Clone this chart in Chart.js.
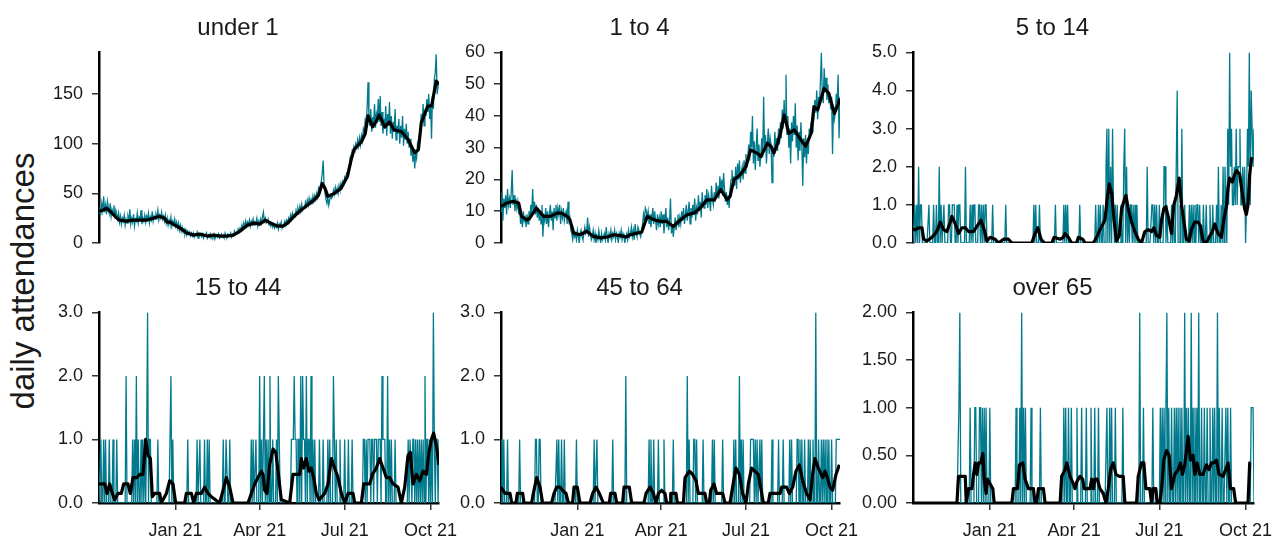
<!DOCTYPE html>
<html>
<head>
<meta charset="utf-8">
<script src="https://cdn.jsdelivr.net/npm/chart.js@4.4.1/dist/chart.umd.min.js"></script>
<style>
  body { margin: 0; width: 1272px; height: 536px; overflow: hidden; background: #fff; position: relative; }
  canvas { position: absolute; }
  #ylab { position: absolute; left: 22px; top: 281px; transform: translate(-50%, -50%) rotate(-90deg);
          font: 33px "Liberation Sans", Arial, sans-serif; line-height: 1; white-space: nowrap; color: #1a1a1a; }
</style>
</head>
<body>
<div id="ylab">daily attendances</div>
<canvas id="c0"></canvas><canvas id="c1"></canvas><canvas id="c2"></canvas>
<canvas id="c3"></canvas><canvas id="c4"></canvas><canvas id="c5"></canvas>
<script>
// days counted from 11 Oct 2020 (day 0) to 10 Oct 2021 (day 364)
const nDays = 365;
const tickDays = [82, 172, 263, 355];
const tickLabels = ['Jan 21', 'Apr 21', 'Jul 21', 'Oct 21'];
const titles = ['under 1', '1 to 4', '5 to 14', '15 to 44', '45 to 64', 'over 65'];

// daily counts, under 1
const dailyUnder1 = [
  30,36,28,40,33,47,31,38,29,42, 36,30,40,27,34,31,38,25,33,29, 24,30,21,27,19,25,22,28,18,24,
  20,27,23,34,19,25,21,29,17,24, 22,30,20,26,24,33,19,25,22,28, 21,27,24,30,20,26,23,32,22,27,
  24,29,26,33,23,28,25,31,24,27, 22,28,20,25,18,23,19,26,17,22, 19,24,17,21,15,20,13,18,12,16,
  11,14,9,13,8,12,9,11,7,10, 7,10,6,9,8,11,5,9,7,8, 6,9,5,8,7,10,5,8,6,9,
  5,8,6,9,4,7,8,6,9,5, 7,9,6,8,5,10,7,6,9,8, 7,10,6,9,8,12,9,11,10,14,
  11,15,13,18,14,20,16,22,17,21, 18,23,17,22,19,24,18,21,20,25, 17,22,19,24,20,26,31,22,25,20,
  21,24,18,22,17,20,16,19,15,18, 16,20,14,19,17,21,15,18,19,22, 18,23,21,25,22,28,24,30,26,29,
  27,33,29,35,31,37,32,39,33,36, 35,41,37,43,38,45,40,44,39,47, 42,48,44,50,46,55,52,58,62,70,
  83,58,50,44,40,46,38,43,48,45, 47,53,49,56,51,55,50,58,54,60, 56,62,59,66,63,70,68,75,79,86,
  82,92,89,97,94,100,96,104,98,106, 99,108,103,115,112,124,120,135,162,128, 118,135,112,127,120,140,116,130,125,145,
  122,148,118,132,110,125,115,138,108,130, 118,142,110,128,105,122,112,135,104,118, 110,125,100,118,106,128,98,115,104,120,
  100,112,96,105,88,98,82,94,75,90, 85,100,96,108,115,130,122,140,118,135, 128,145,132,150,125,140,105,148,135,165,
  172,190,150,158,162
];
// daily counts, 1 to 4
const daily1to4 = [
  10,16,7,14,11,15,9,17,12,14, 11,16,23,12,15,10,14,11,13,9, 12,6,9,5,10,7,8,5,9,6,
  10,7,12,9,17,10,13,9,12,8, 11,7,10,6,12,2,9,7,11,6, 10,5,9,12,7,10,4,11,8,12,
  7,11,9,12,6,10,8,11,7,9, 10,6,13,7,8,4,3,1,4,2, 3,1,4,2,0,3,4,2,1,3,
  5,3,4,8,2,5,3,1,2,4, 1,3,0,2,1,4,2,0,3,1, 2,3,1,5,2,0,3,2,4,1,
  3,2,4,1,3,2,0,3,2,4, 1,3,2,0,2,3,1,4,2,3, 5,2,4,1,6,3,2,5,4,3,
  2,4,6,9,7,11,10,8,10,6, 9,5,8,11,6,10,7,4,9,6, 8,5,10,6,9,3,7,11,5,8,
  4,7,14,3,6,2,5,8,4,7, 9,5,8,6,10,7,11,6,9,12, 7,10,13,6,11,8,12,9,14,7,
  11,9,15,10,13,8,16,12,11,15, 12,17,11,15,13,10,18,14,12,16, 13,19,15,18,14,21,16,20,15,22,
  17,13,16,12,15,11,17,20,23,18, 21,18,24,17,25,20,26,19,22,24, 20,26,22,28,24,27,31,26,35,30,
  40,25,32,23,30,36,26,31,24,28, 33,27,46,29,34,25,31,36,28,33, 31,19,29,27,35,30,33,29,36,31,
  38,33,42,36,45,38,53,34,40,30, 36,25,38,32,40,34,44,30,37,26, 35,29,38,31,18,33,27,34,25,32,
  28,36,33,38,35,42,40,45,41,48, 39,46,43,51,60,47,44,55,49,52, 45,50,44,47,42,46,28,43,39,41,
  47,44,53,33,46
];
// days with attendances [day, count]; all other days are zero
const counts5to14 = [
  [2,1],[4,1],[6,2],[8,1],[9,1],[17,1],[22,1],[25,1],[28,2],[30,1],[33,1],[38,1],[39,1],[42,1],[43,1],[44,1],
  [47,1],[49,1],[50,1],[56,2],[61,1],[63,1],[65,1],[66,1],[70,1],[71,1],[73,1],[75,1],[77,1],[78,1],[85,1],
  [99,1],[129,1],[131,1],[135,1],[152,1],[161,1],[163,1],[165,1],[178,1],[195,1],[198,1],[200,1],[203,1],
  [206,2],[207,3],[209,3],[211,2],[213,3],[214,1],[216,1],[218,1],[222,1],[225,2],[226,3],[228,2],[230,1],
  [232,1],[233,1],[235,1],[237,1],[239,1],[250,2],[255,1],[256,1],[258,1],[260,1],[263,1],[268,2],[269,2],
  [271,1],[276,1],[278,1],[281,2],[282,4],[285,1],[287,3],[290,1],[295,1],[297,1],[299,1],[301,1],[303,1],
  [304,1],[306,1],[310,1],[313,1],[317,1],[320,1],[324,1],[326,2],[329,1],[331,2],[333,2],[334,1],[336,3],
  [337,1],[338,5],[339,2],[340,3],[341,1],[342,1],[343,2],[344,1],[345,3],[346,1],[347,2],[348,2],[349,3],
  [350,1],[351,1],[352,2],[353,1],[354,2],[356,1],[357,3],[358,2],[359,5],[360,1],[361,4],[362,3],[363,2],[364,3]
];
const counts15to44 = [
  [2,1],[5,1],[7,1],[11,1],[15,1],[19,1],[29,2],[36,1],[38,1],[40,2],[42,1],[45,1],[47,1],[49,1],[51,1],
  [52,3],[54,1],[55,1],[63,1],[77,2],[79,1],[95,1],[105,1],[108,1],[113,1],[116,1],[118,1],[133,1],[136,1],
  [137,1],[140,1],[163,1],[165,1],[168,1],[172,2],[174,1],[176,1],[177,2],[179,1],[181,1],[183,2],[186,1],
  [190,1],[192,2],[193,1],[206,1],[207,1],[208,1],[209,2],[210,1],[211,1],[213,1],[214,1],[216,2],[218,2],
  [219,1],[220,1],[222,2],[224,1],[225,1],[227,2],[229,1],[231,1],[236,1],[240,1],[245,1],[247,1],[251,2],
  [252,1],[254,1],[258,1],[263,1],[267,1],[271,1],[283,1],[284,1],[286,1],[288,1],[289,1],[290,1],[292,1],
  [293,1],[295,1],[296,1],[297,1],[299,1],[300,1],[301,1],[303,2],[304,1],[305,1],[306,1],[309,2],[311,1],
  [313,1],[317,1],[331,1],[333,1],[334,1],[336,1],[337,1],[339,1],[341,1],[343,1],[345,1],[347,1],[349,2],
  [351,1],[352,1],[354,1],[356,1],[358,3],[359,1],[361,1],[362,1],[364,1]
];
const counts45to64 = [
  [1,1],[3,1],[7,1],[20,1],[37,1],[38,1],[41,1],[42,1],[60,1],[62,1],[65,1],[68,1],[81,1],[100,1],[103,1],
  [120,1],[134,2],[159,1],[161,1],[164,1],[169,1],[175,1],[185,1],[200,2],[202,1],[207,1],[208,1],[210,1],
  [217,1],[227,1],[229,1],[238,1],[250,1],[252,1],[256,2],[258,1],[260,1],[268,1],[269,1],[270,1],[271,1],
  [273,1],[275,1],[278,1],[280,1],[291,1],[298,1],[303,1],[310,1],[312,1],[318,1],[319,1],[321,1],[323,1],
  [326,1],[330,1],[332,1],[335,1],[338,3],[341,1],[344,1],[346,1],[348,1],[350,1],[352,1],[355,1],[360,1],
  [361,1],[362,1],[363,1],[364,1]
];
const countsOver65 = [
  [49,1],[50,2],[61,1],[66,1],[67,1],[71,1],[72,1],[74,1],[76,1],[78,1],[82,1],[110,1],[114,1],[116,2],
  [118,1],[120,1],[126,1],[136,1],[161,1],[163,1],[166,1],[169,1],[175,1],[180,1],[185,1],[190,1],[194,1],
  [198,1],[207,1],[210,1],[212,1],[216,1],[224,1],[242,2],[246,1],[256,1],[264,1],[266,1],[268,1],[270,1],
  [271,2],[273,1],[276,1],[279,1],[281,1],[283,1],[285,1],[287,1],[290,2],[292,1],[294,1],[297,2],[299,1],
  [301,1],[303,1],[305,2],[308,1],[311,1],[314,1],[317,1],[320,1],[322,1],[325,2],[327,1],[330,1],[334,1],
  [336,1],[339,1],[361,1],[362,1],[363,1]
];

// 7-day average line [day, value]
const avgUnder1 = [[0,32],[4,33],[8,35],[13,31],[18,26],[22,23],[29,22],[36,23],[44,23],[51,23],[58,25],[65,27],
  [70,25],[73,21],[76,21],[81,18],[87,15],[94,10],[101,8],[108,9],[116,7],[123,8],[130,7],[137,7],[144,8],[151,12],
  [159,18],[166,20],[172,19],[178,23],[184,20],[191,17],[197,17],[202,20],[209,27],[216,33],[223,38],[230,43],[235,48],
  [239,60],[242,55],[245,47],[252,50],[259,55],[266,67],[270,84],[273,94],[281,102],[285,110],[288,128],[293,117],
  [297,123],[300,129],[306,117],[311,122],[316,114],[324,112],[331,104],[338,91],[342,94],[345,121],[352,138],
  [356,138],[361,163],[364,160]];
const avg1to4 = [[0,11.5],[3,12],[6,12.6],[13,13.1],[19,12.6],[22,8.4],[28,7.3],[31,7.9],[38,11],[46,8.4],[53,8.4],
  [60,9.4],[65,9.4],[71,8.4],[74,7.3],[78,3.1],[85,2.6],[92,3.7],[99,2.1],[107,1.6],[114,1.9],[121,2.6],[128,2.3],
  [135,1.9],[139,2.6],[146,3.1],[151,3.4],[157,8.4],[164,7.3],[171,6.8],[178,6.8],[185,5.2],[193,7.3],[200,8.9],
  [207,9.4],[214,11],[221,13.6],[229,13.6],[236,16.8],[243,13.6],[246,14.7],[250,19.9],[257,21.5],[263,24],
  [268,29.3],[275,28.3],[279,27.2],[286,31.4],[290,30.4],[293,28.3],[297,31.4],[300,34.5],[304,40.3],[309,34.5],
  [315,35.6],[322,32.5],[327,30.4],[333,34.5],[336,42.9],[340,41.9],[347,48.7],[352,47.1],[358,40.8],[361,42.9],
  [364,45.5]];
const avg5to14 = [[0,0.35],[2.5,0.35],[6,0.4],[9.6,0.4],[11.4,0.1],[14.9,0.05],[20.2,0.15],[23.8,0.25],[26.3,0.35],
  [29.1,0.55],[32.7,0.35],[36.2,0.3],[39.8,0.55],[41.5,0.7],[45.1,0.5],[48.6,0.25],[52.2,0.4],[55.8,0.4],[59.3,0.3],
  [64.6,0.3],[70,0.5],[72.4,0.6],[76,0.35],[78.8,0.05],[82.4,0.15],[87.7,0.1],[91.3,0],[96.6,0.1],[101.9,0.1],
  [105.5,0],[126.8,0],[130.3,0.25],[133.2,0.4],[136.7,0.1],[140.3,0],[148.1,0],[150.6,0.15],[157,0.1],[160.5,0.15],
  [162.3,0.25],[165.8,0.15],[169.4,0],[174.7,0],[176.5,0.15],[181.1,0.1],[183.6,0],[192.5,0],[196,0.15],[199.6,0.35],
  [204.9,0.6],[207.4,1.2],[209.5,1.55],[212.1,1.3],[214.6,0.6],[217.3,0.05],[220.2,0.2],[222.7,0.9],[224.5,1.05],
  [227.3,1.25],[229.7,0.9],[233.3,0.55],[236.9,0.3],[240.4,0.1],[243.9,0],[247.5,0.3],[251.1,0.35],[254.6,0.3],
  [257.1,0.4],[259.9,0.2],[263.5,0.15],[265.3,0.6],[267.7,0.9],[269.9,0.95],[272.4,0.7],[275.9,0.25],[278.4,1.0],
  [281.2,1.25],[284.1,1.7],[286.6,1.0],[289,0.6],[291.9,0.1],[294.7,0.05],[297.2,0.35],[300.8,0.55],[304.3,0.55],
  [306.8,0.45],[309.6,0.05],[313.2,0],[316,0.15],[319.6,0.3],[322.1,0.5],[325.6,0.25],[329.2,0.15],[331.7,0.6],
  [334.5,0.95],[336.3,1.45],[338,1.7],[340.9,1.6],[343.4,1.8],[345.2,1.9],[348.7,1.8],[351.5,1.3],[354,0.9],
  [355.8,0.75],[357.6,1.0],[359.4,1.8],[361.2,2.2],[362.2,2.25]];
const avg15to44 = [[0,0.3],[6.1,0.3],[8.6,0.15],[11.4,0.3],[14.3,0.15],[16.8,0.05],[20.3,0.15],[23.9,0.15],[26.4,0.3],
  [31,0.3],[33.5,0.15],[36.4,0.4],[40.7,0.4],[43.5,0.45],[47.1,0.45],[50,1.0],[52.5,0.75],[55,0.7],[57.1,0.1],
  [59.6,0.15],[65,0.15],[66.7,0],[72.1,0.15],[75.7,0.35],[79.2,0.3],[82.1,0],[91.7,0],[93.5,0.15],[98.9,0.15],
  [101.4,0],[104.2,0.15],[109.6,0.15],[113.1,0.25],[116.7,0.15],[120.3,0.1],[129.2,0],[132.8,0.2],[136.3,0.4],
  [139.9,0.25],[143.5,0],[159.5,0],[163.1,0.15],[166.7,0.3],[170.2,0.4],[173.8,0.5],[175.6,0.45],[177.4,0.2],
  [179.9,0.15],[182.7,0.6],[186.3,0.85],[189.2,0.8],[191.7,0.5],[195.2,0.05],[204.1,0],[207.7,0.45],[214.9,0.45],
  [216.6,0.7],[219.1,0.55],[221.9,0.7],[224.8,0.5],[227.3,0.55],[229.8,0.4],[232.7,0.15],[235.5,0.05],[241.6,0.15],
  [245.2,0.3],[248.8,0.7],[252.3,0.55],[255.9,0.4],[259.5,0.15],[263,0],[266.6,0.15],[272,0.15],[273.7,0],[280.9,0],
  [283.4,0.3],[289.8,0.3],[292.7,0.45],[296.9,0.55],[300.5,0.7],[304.1,0.55],[307.6,0.4],[311.2,0.4],[314.8,0.3],
  [320.1,0.25],[323.7,0],[327.3,0.25],[330.8,0.75],[333.3,0.8],[336.2,0.3],[339.8,0.45],[343.3,0.35],[346.9,0.5],
  [350.5,0.45],[353.3,0.8],[355.8,1.0],[358.3,1.1],[361.2,0.9],[364,0.6]];
const avg45to64 = [[0,0.25],[4.3,0.15],[9.7,0.15],[11.5,0],[16.1,0],[17.5,0.15],[23.3,0.15],[24.7,0],[32.9,0],
  [34.7,0.15],[38.3,0.4],[41.9,0.25],[44.7,0],[54.4,0],[56.9,0.15],[59.8,0.25],[63.3,0.25],[66.2,0.2],[69.8,0.15],
  [72.3,0],[76.9,0],[78.4,0.25],[81.9,0.25],[84.8,0],[95.6,0],[98.4,0.15],[102,0.25],[105.6,0.15],[109.9,0],
  [116.3,0],[117.7,0.15],[122.4,0.15],[124.2,0],[130.6,0],[132.1,0.25],[137.8,0.25],[140.3,0],[153.5,0],[155.7,0.15],
  [160,0.25],[163.6,0.15],[166.4,0],[169,0.15],[172.5,0.2],[176.1,0.15],[177.9,0],[181.5,0],[182.2,0.15],
  [187.9,0.15],[189.3,0],[195.8,0],[197.6,0.4],[202.3,0.5],[205.8,0.45],[209.4,0.35],[211.9,0.15],[219,0.15],
  [220.9,0],[223.7,0],[225.1,0.2],[228.7,0.3],[231.5,0.15],[238,0.15],[240.5,0],[245.9,0],[248.7,0.25],[252.3,0.55],
  [255.9,0.45],[259.5,0.15],[263.1,0],[265.6,0.3],[269.1,0.55],[272.7,0.5],[276.3,0.45],[278.8,0.25],[281.7,0],
  [287,0],[288.8,0.15],[299.6,0.15],[301.4,0.25],[306.7,0.25],[309.6,0.15],[313.2,0.25],[316.7,0.5],[320.3,0.6],
  [323.9,0.35],[328.2,0.15],[331.8,0.05],[334.6,0.45],[337.1,0.7],[340.7,0.55],[345.4,0.4],[347.9,0.5],[350.4,0.4],
  [353.3,0.25],[356.1,0.2],[359.7,0.45],[363.3,0.6]];
const avgOver65 = [[0,0],[46.9,0],[48.6,0.28],[55.8,0.28],[56.8,0],[59.3,0.15],[62.9,0.15],[64.6,0.3],[66.4,0.42],
  [68.2,0.3],[70,0.42],[72.4,0.42],[74.6,0.52],[76,0.25],[78.1,0.1],[79.5,0.25],[82.4,0.2],[85.2,0.15],[86.6,0],
  [105.5,0],[107.2,0.15],[111.5,0.15],[113.6,0.4],[117.2,0.42],[119.7,0.25],[123.2,0.15],[128.5,0.15],[130.3,0],
  [132,0],[133.9,0.15],[139.2,0.15],[141,0],[157,0],[158.7,0.28],[162.3,0.35],[164.1,0.42],[167.6,0.28],[171.2,0.2],
  [172.9,0.15],[174.7,0.22],[178.3,0.28],[181.1,0.25],[182.9,0.15],[188.9,0.15],[190.7,0.25],[192.5,0.15],
  [194.2,0.25],[196.7,0.25],[199.6,0.15],[203.1,0.1],[206,0],[208.4,0.15],[210.9,0.35],[213.8,0.42],[216.6,0.3],
  [220.2,0.28],[224.4,0.28],[226.2,0],[238.6,0],[240.4,0.28],[243.9,0.42],[246.4,0.42],[248.6,0.15],[252.8,0.15],
  [254.6,0],[256.4,0.15],[259.2,0.15],[260.6,0],[263.5,0],[265.3,0.15],[267.7,0.45],[270.6,0.55],[273.4,0.5],
  [275.9,0.15],[279.5,0.3],[283,0.35],[285.5,0.42],[287.6,0.3],[290.1,0.4],[293.7,0.7],[296.2,0.45],[299,0.5],
  [300.8,0.3],[303.3,0.42],[306.1,0.3],[309.6,0.3],[313.2,0.4],[316,0.35],[318.5,0.42],[321,0.42],[323.9,0.45],
  [326.7,0.3],[331,0.28],[333.8,0.35],[336.3,0.42],[338.8,0.15],[342.3,0.15],[344.4,0],[357.6,0],[359.4,0.42],
  [360.1,0.42]];

const yTicks = [[0,50,100,150],[0,10,20,30,40,50,60],[0,1,2,3,4,5],[0,1,2,3],[0,1,2,3],[0,0.5,1,1.5,2]];
const yMax = [192, 60, 5, 3, 3, 2];
const yDecimals = [0, 0, 1, 1, 1, 2];

function expand(counts) {
  const out = new Array(nDays).fill(0);
  counts.forEach(([d, v]) => { out[d] = v; });
  return out;
}
const dailySeries = [dailyUnder1, daily1to4, expand(counts5to14), expand(counts15to44), expand(counts45to64), expand(countsOver65)];
const avgSeries = [avgUnder1, avg1to4, avg5to14, avg15to44, avg45to64, avgOver65];

// plot area in page pixels: left, right; row 0 = top, row 1 = bottom
const boxes = [
  {left: 99, right: 439, row: 0}, {left: 501, right: 839.5, row: 0}, {left: 913, right: 1254, row: 0},
  {left: 99, right: 439, row: 1}, {left: 501, right: 840, row: 1}, {left: 913, right: 1254, row: 1}
];

const teal = '#007A8C';
const font = '"Liberation Sans", Arial, sans-serif';
const yW = 62;

boxes.forEach((b, i) => {
  const cv = document.getElementById('c' + i);
  const bottomRow = b.row === 1;
  const padR = bottomRow ? Math.min(24, 1272 - b.right) : 4;
  const w = Math.round(b.right - b.left + yW + padR);
  const h = bottomRow ? 276 : 252;
  cv.width = w; cv.height = h;
  cv.style.left = (b.left - yW) + 'px';
  cv.style.top = (bottomRow ? 260 : 0) + 'px';

  new Chart(cv, {
    type: 'line',
    data: {
      datasets: [
        { data: avgSeries[i].map(p => ({x: p[0], y: p[1]})), borderColor: '#000', borderWidth: 3.2,
          borderJoinStyle: 'round', pointRadius: 0, order: 0 },
        { data: dailySeries[i].map((v, d) => ({x: d, y: v})), borderColor: teal, borderWidth: 1.3,
          pointRadius: 0, order: 1 }
      ]
    },
    options: {
      responsive: false,
      animation: false,
      devicePixelRatio: 1,
      events: [],
      layout: { padding: { top: 14, left: 0, right: padR, bottom: bottomRow ? 0 : 9 } },
      plugins: {
        legend: { display: false },
        tooltip: { enabled: false },
        title: { display: true, text: titles[i], color: '#1a1a1a',
                 font: { family: font, size: 24, weight: 'normal' }, padding: { top: 0, bottom: 9.6 } }
      },
      scales: {
        x: {
          type: 'linear', min: 0, max: nDays - 1,
          display: bottomRow,
          afterBuildTicks: s => { s.ticks = tickDays.map(v => ({value: v})); },
          afterFit: s => {
            if (bottomRow) s.height = 33;
            s.paddingLeft = 0; s.paddingRight = 0;
          },
          ticks: { padding: 10, color: '#1a1a1a', font: { family: font, size: 18 }, maxRotation: 0, autoSkip: false,
                   callback: v => tickLabels[tickDays.indexOf(v)] },
          grid: { drawOnChartArea: false, drawTicks: true, tickLength: 7, color: '#333', lineWidth: 1.5 },
          border: { display: true, color: '#000', width: 2.5 }
        },
        y: {
          min: 0, max: yMax[i],
          afterBuildTicks: s => { s.ticks = yTicks[i].map(v => ({value: v})); },
          afterFit: s => { s.width = yW; s.paddingTop = 0; s.paddingBottom = 0; },
          ticks: { padding: 9, color: '#1a1a1a', font: { family: font, size: 18 },
                   callback: v => v.toFixed(yDecimals[i]) },
          grid: { drawOnChartArea: false, drawTicks: true, tickLength: 7, color: '#333', lineWidth: 1.5 },
          border: { display: true, color: '#000', width: 2.5 }
        }
      }
    }
  });
});
</script>
</body>
</html>
